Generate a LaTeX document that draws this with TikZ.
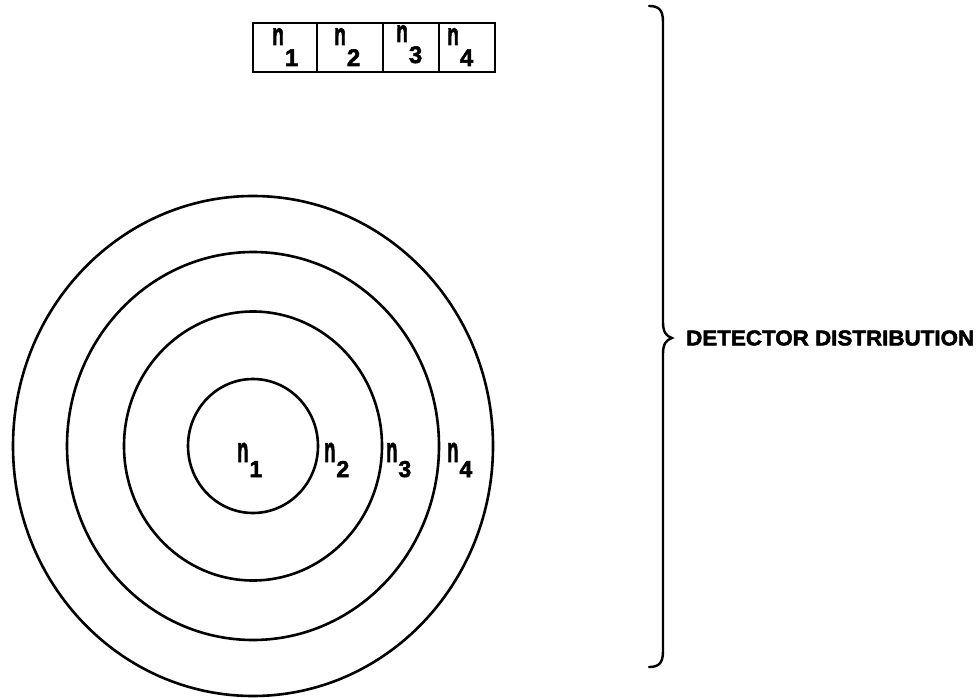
\documentclass[tikz,border=0pt]{standalone}
\usepackage{fontspec}
\setmainfont{Liberation Sans}
\newfontfamily\heavy[BoldFeatures={FakeBold=2.2}]{Liberation Sans}
\usepackage{graphicx}
\newcommand{\enn}[1]{\scalebox{0.8}[#1]{n}}
\tikzset{
  ring/.style={line width=2.6pt, draw=black},
  cell/.style={draw=black, line width=2.6pt, minimum width=64pt, minimum height=49pt, inner sep=0pt},
  lbl/.style={font=\fontsize{23}{23}\heavy\bfseries, inner sep=0pt, anchor=base west},
  tlbl/.style={font=\fontsize{24}{24}\heavy\bfseries, inner sep=0pt, anchor=base west},
  brace/.style={line width=2.4pt, draw=black, line cap=round}
}
\begin{document}
\begin{tikzpicture}[x=1pt,y=-1pt]
\useasboundingbox (0,0) rectangle (978,698);
% top cells
\node[cell, minimum width=64pt] (b1) at (285,47.5) {};
\node[cell, minimum width=66pt] (b2) at (350,47.5) {};
\node[cell, minimum width=56pt] (b3) at (411,47.5) {};
\node[cell, minimum width=56pt] (b4) at (467,47.5) {};
\node[tlbl] (t1) at (272,45) {\enn{1.3}\kern1pt\raisebox{-21pt}{1}};
\node[tlbl] (t2) at (334,45) {\enn{1.3}\kern1pt\raisebox{-21pt}{2}};
\node[tlbl] (t3) at (396,42) {\enn{1.3}\kern1pt\raisebox{-21pt}{3}};
\node[tlbl] (t4) at (447,45) {\enn{1.3}\kern1pt\raisebox{-21pt}{4}};
% rings
\coordinate (o) at (253,446);
\draw[ring] (o) ellipse [x radius=65, y radius=67];
\draw[ring] (o) ellipse [x radius=129, y radius=134.5];
\draw[ring] (o) ellipse [x radius=186, y radius=194];
\draw[ring] (o) ellipse [x radius=240, y radius=250];
\node[lbl] (c1) at (237,462) {\enn{1.55}\kern1pt\raisebox{-15pt}{1}};
\node[lbl] (c2) at (324,462) {\enn{1.55}\kern1pt\raisebox{-15pt}{2}};
\node[lbl] (c3) at (386,462) {\enn{1.55}\kern1pt\raisebox{-15pt}{3}};
\node[lbl] (c4) at (447,462) {\enn{1.55}\kern1pt\raisebox{-15pt}{4}};
% brace
\coordinate (bt) at (649,6);
\coordinate (bb) at (649,667);
\coordinate (tip) at (672,338);
\draw[brace] (bt) .. controls (659,6) and (663,10) .. (663,22) -- (663,322)
  .. controls (663,332) and (666,336) .. (tip)
  .. controls (666,340) and (663,344) .. (663,354) -- (663,651)
  .. controls (663,663) and (659,667) .. (bb);
\node[anchor=west, inner sep=0pt, font=\fontsize{19}{19}\heavy\bfseries] (dd) at (686,338) {\resizebox{288pt}{15pt}{DETECTOR DISTRIBUTION}};
\end{tikzpicture}
\end{document}
